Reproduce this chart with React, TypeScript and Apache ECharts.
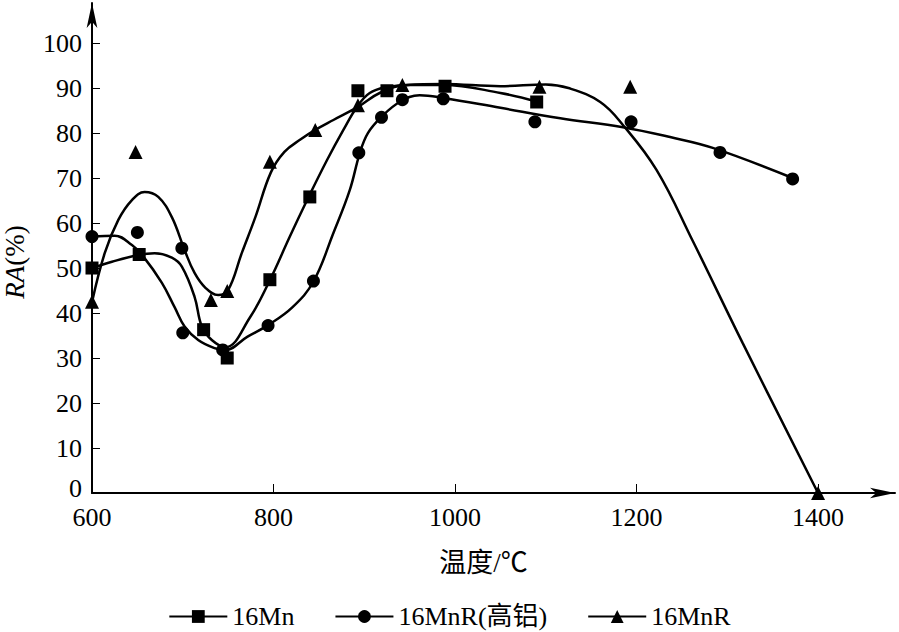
import React, { useEffect, useRef } from "react";
import * as echarts from "echarts";

const FONT = "'Liberation Serif', 'Noto Sans CJK SC', serif";

const seriesNames = ["16Mn", "16MnR(高铝)", "16MnR"];

const xTicks = [600, 800, 1000, 1200, 1400];
const yTicks = [0, 10, 20, 30, 40, 50, 60, 70, 80, 90, 100];

// measured points (markers)
const pts16Mn = [
  [600, 50], [652, 53], [723, 36.3], [749, 30], [796, 47.4], [840, 65.8],
  [893, 89.4], [925, 89.4], [989, 90.4], [1090, 86.9],
];
const ptsHiAl = [
  [600, 57], [650, 57.9], [699, 54.4], [700, 35.6], [744, 31.8], [794, 37.2],
  [844, 47.1], [894, 75.6], [919, 83.5], [942, 87.4], [987, 87.6], [1088, 82.5],
  [1194, 82.5], [1292, 75.7], [1372, 69.8],
];
const pts16MnR = [
  [600, 42.5], [648, 75.8], [731, 42.9], [749, 44.9], [796, 73.6], [846, 80.7],
  [893, 86.2], [942, 90.7], [1093, 90.3], [1193, 90.3], [1400, 0],
];

// fitted curves as drawn in the figure
const curve16Mn = [
  [600, 50], [622, 51.4], [651, 52.9], [669, 53.3], [688, 52.3], [699, 50.3],
  [713, 43.6], [721, 37], [732, 34], [747, 32.4], [774, 39], [796, 47.3],
  [818, 57], [838, 65.5], [859, 74], [877, 80.7], [892, 85.8], [906, 88.9],
  [925, 90.2], [950, 90.7], [987, 90.7], [1050, 88.9], [1090, 87],
];
const curveHiAl = [
  [600, 57], [625, 57.2], [644, 55.1], [656, 52.7], [677, 46.7], [691, 41.3],
  [702, 37], [717, 34], [735, 32.2], [747, 31.8], [771, 34.7], [794, 37.3],
  [821, 41.3], [844, 47], [866, 57.8], [884, 67.3], [895, 75.5], [904, 80],
  [919, 83.6], [939, 86.9], [961, 88.4], [987, 87.8], [1050, 85.6],
  [1116, 83.3], [1185, 81.3], [1237, 79.1], [1284, 76.7], [1372, 70],
];
const curve16MnR = [
  [600, 42.4], [614, 53.3], [629, 60.7], [644, 65.1], [658, 66.9], [673, 65.8],
  [688, 61.3], [702, 54], [713, 48.9], [725, 45.6], [739, 44], [750, 45.1],
  [765, 53.3], [780, 61.3], [797, 71.2], [812, 75.8], [830, 78.6],
  [846, 80.7], [866, 82.9], [893, 85.8], [917, 88.9], [947, 90.7], [987, 90.9],
  [1050, 90.4], [1100, 90.8], [1125, 90], [1160, 86.9], [1185, 81.8],
  [1222, 71.8], [1262, 56], [1317, 33.3], [1400, 0],
];

const symbols = ["rect", "circle", "triangle"];
const symbolSizes = [13, 13, 14];

export default function App() {
  const ref = useRef<HTMLDivElement>(null);
  useEffect(() => {
    if (!ref.current) return;
    const chart = echarts.init(ref.current, undefined, { renderer: "svg" });
    const curves = [curve16Mn, curveHiAl, curve16MnR];
    const pts = [pts16Mn, ptsHiAl, pts16MnR];
    const series: any[] = [];
    seriesNames.forEach((name, i) => {
      series.push({
        name,
        type: "line",
        data: curves[i],
        smooth: 0.4,
        showSymbol: false,
        symbol: symbols[i],
        lineStyle: { color: "#000", width: 2.5 },
        itemStyle: { color: "#000", opacity: 1 },
        silent: true,
      });
    });
    seriesNames.forEach((name, i) => {
      series.push({
        name,
        type: "scatter",
        data: pts[i],
        symbol: symbols[i],
        symbolSize: symbolSizes[i],
        itemStyle: { color: "#000", opacity: 1 },
        silent: true,
      });
    });
    chart.setOption({
      animation: false,
      backgroundColor: "#fff",
      textStyle: { fontFamily: FONT, color: "#000" },
      grid: { left: 92, right: 4, top: 3, bottom: 139, containLabel: false },
      legend: {
        data: seriesNames,
        left: "center",
        top: 603,
        padding: 0,
        itemWidth: 58,
        itemHeight: 16,
        itemGap: 40,
        textStyle: { fontFamily: FONT, fontSize: 26, color: "#000", lineHeight: 27 },
        selectedMode: false,
      },
      xAxis: {
        type: "value",
        min: 600,
        max: 1484.8,
        name: "温度/℃",
        nameLocation: "middle",
        nameGap: 56,
        nameTextStyle: {
          fontFamily: FONT,
          fontSize: 27,
          color: "#000",
          padding: [0, 20, 0, 0],
        },
        axisLine: {
          show: true,
          onZero: false,
          symbol: ["none", "arrow"],
          symbolSize: [8, 25],
          lineStyle: { color: "#000", width: 2 },
        },
        axisTick: {
          show: true,
          inside: true,
          length: 9,
          customValues: xTicks,
          lineStyle: { color: "#000", width: 1 },
        },
        axisLabel: {
          customValues: xTicks,
          formatter: (v: number) => String(v),
          fontFamily: FONT,
          fontSize: 26,
          lineHeight: 20,
          color: "#000",
          margin: 14,
        },
        splitLine: { show: false },
      },
      yAxis: {
        type: "value",
        min: 0,
        max: 108.9,
        axisLine: {
          show: true,
          onZero: false,
          symbol: ["none", "arrow"],
          symbolSize: [8, 25],
          lineStyle: { color: "#000", width: 2 },
        },
        axisTick: {
          show: true,
          inside: true,
          length: 8,
          customValues: yTicks,
          lineStyle: { color: "#000", width: 1 },
        },
        axisLabel: {
          customValues: yTicks,
          formatter: (v: number) => (v === 0 ? "{z|0}" : String(v)),
          fontFamily: FONT,
          fontSize: 26,
          lineHeight: 20,
          color: "#000",
          margin: 10,
          rich: {
            z: {
              fontFamily: FONT,
              fontSize: 26,
              lineHeight: 20,
              color: "#000",
              padding: [0, 0, 10, 0],
            },
          },
        },
        splitLine: { show: false },
      },
      graphic: [
        {
          type: "text",
          x: 15,
          y: 262,
          rotation: Math.PI / 2,
          style: {
            text: "{i|RA}(%)",
            align: "center",
            verticalAlign: "middle",
            font: `27px ${FONT}`,
            fill: "#000",
            rich: {
              i: { fontStyle: "italic", fontFamily: FONT, fontSize: 27, fill: "#000" },
            },
          },
        },
      ],
      series,
    });
    return () => chart.dispose();
  }, []);
  return (
    <div
      ref={ref}
      style={{ position: "fixed", left: 0, top: 0, width: 899, height: 632 }}
    />
  );
}
